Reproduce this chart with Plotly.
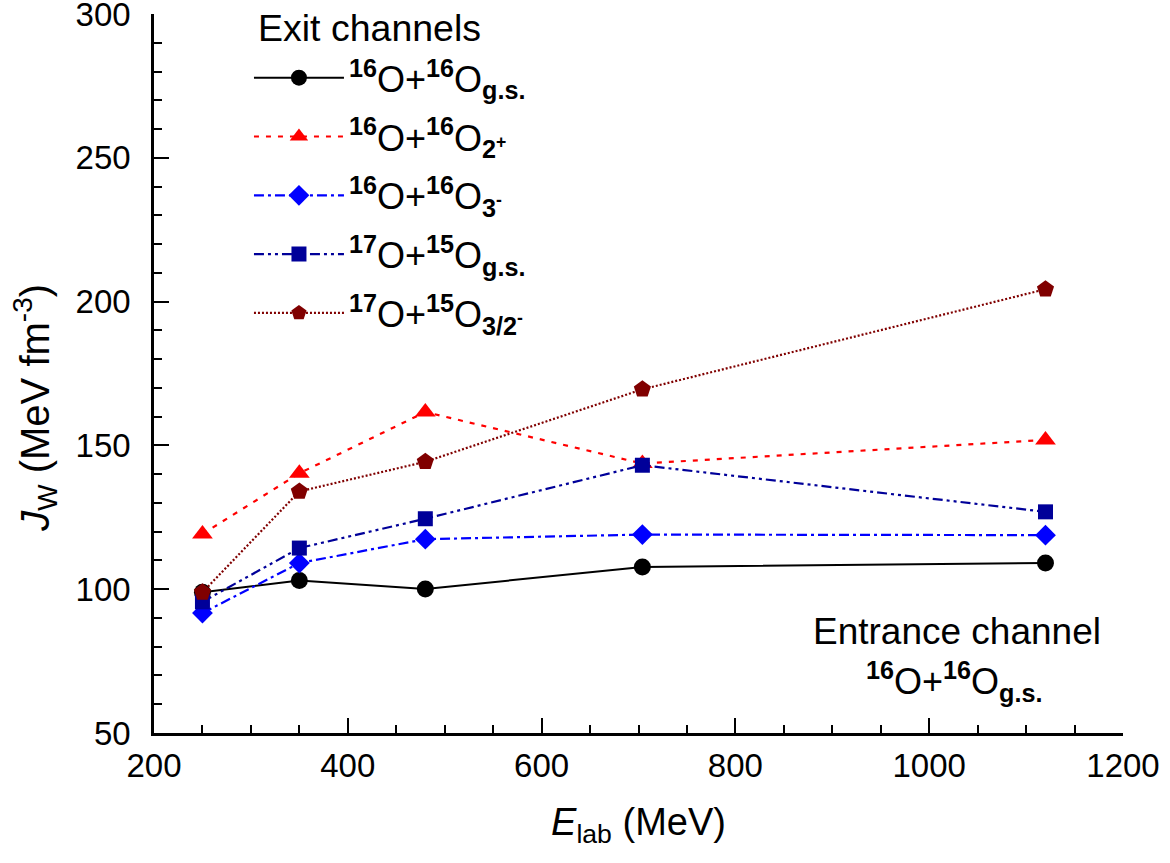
import plotly.graph_objects as go

# Laboratory energies (MeV)
e_lab = [250, 350, 480, 704, 1120]

# Volume integrals J_W (MeV fm^-3) for each exit channel
jw_16o_gs = [98.9, 103.0, 100.1, 107.7, 109.1]
jw_16o_2p = [119.2, 140.3, 161.6, 143.7, 151.9]
jw_16o_3m = [91.7, 109.1, 117.4, 119.0, 118.8]
jw_17o_gs = [95.6, 114.3, 124.5, 143.1, 126.9]
jw_17o_32m = [98.9, 134.0, 144.3, 169.5, 204.3]

# Axis ticks
x_major = [200, 400, 600, 800, 1000, 1200]
y_major = [50, 100, 150, 200, 250, 300]

FONT = "Arial, Liberation Sans, sans-serif"

series = [
    dict(y=jw_16o_gs,
         name="<b><sup>16</sup></b>O+<b><sup>16</sup></b>O<b><sub>g.s.</sub></b>",
         color="#000000", symbol="circle", size=17, dash="solid", width=2),
    dict(y=jw_16o_2p,
         name="<b><sup>16</sup></b>O+<b><sup>16</sup></b>O<b><sub>2<sup>+</sup></sub></b>",
         color="#FF0000", symbol="triangle-up", size=18, dash="5px,7px", width=2.2),
    dict(y=jw_16o_3m,
         name="<b><sup>16</sup></b>O+<b><sup>16</sup></b>O<b><sub>3<sup>-</sup></sub></b>",
         color="#0000FF", symbol="diamond", size=16, dash="10px,4px,3px,4px", width=2.2),
    dict(y=jw_17o_gs,
         name="<b><sup>17</sup></b>O+<b><sup>15</sup></b>O<b><sub>g.s.</sub></b>",
         color="#000099", symbol="square", size=15, dash="10px,4px,3px,4px,3px,4px", width=2.2),
    dict(y=jw_17o_32m,
         name="<b><sup>17</sup></b>O+<b><sup>15</sup></b>O<b><sub>3/2<sup>-</sup></sub></b>",
         color="#800000", symbol="pentagon", size=18, dash="2px,2px", width=2.2),
]

fig = go.Figure()
for i, s in enumerate(series):
    fig.add_trace(go.Scatter(
        x=e_lab, y=s["y"], name=s["name"], mode="lines+markers",
        legendgroup=f"g{i}",
        line=dict(color=s["color"], dash=s["dash"], width=s["width"]),
        marker=dict(color=s["color"], symbol=s["symbol"], size=s["size"]),
    ))

axis_common = dict(
    showline=True, linecolor="black", linewidth=2.5,
    ticks="inside", ticklen=15, tickwidth=2, tickcolor="black",
    showgrid=False, zeroline=False, mirror=False,
    ticklabeloverflow="allow",
    tickfont=dict(family=FONT, size=33, color="black"),
)

fig.update_xaxes(
    range=[200, 1200], tickmode="array", tickvals=x_major,
    minor=dict(ticks="inside", ticklen=8, tickwidth=2, tickcolor="black",
               tickmode="linear", tick0=200, dtick=50, showgrid=False),
    title=dict(text="<i>E</i><sub>lab</sub> (MeV)", font=dict(family=FONT, size=38, color="black"), standoff=26),
    ticklabelstandoff=2,
    **axis_common,
)
fig.update_yaxes(
    range=[50, 300], tickmode="array", tickvals=y_major,
    minor=dict(ticks="inside", ticklen=8, tickwidth=2, tickcolor="black",
               tickmode="linear", tick0=50, dtick=10, showgrid=False),
    ticklabelstandoff=14,
    **axis_common,
)

# y-axis title, placed slightly below the plot's vertical centre
fig.add_annotation(
    xref="paper", yref="paper", x=-0.123, y=0.452, xanchor="center", yanchor="middle",
    text="<i>J</i><sub>W</sub> (MeV fm<sup>-3</sup>)", textangle=-90, showarrow=False,
    font=dict(family=FONT, size=40, color="black"),
)

# Legend heading
fig.add_annotation(
    xref="paper", yref="paper", x=0.1055, y=0.981, xanchor="left", yanchor="middle",
    text="Exit channels", showarrow=False,
    font=dict(family=FONT, size=37.5, color="black"),
)

fig.add_annotation(
    xref="paper", yref="paper", x=0.829, y=0.141, xanchor="center", yanchor="middle",
    text="Entrance channel", showarrow=False,
    font=dict(family=FONT, size=37, color="black"),
)
fig.add_annotation(
    xref="paper", yref="paper", x=0.826, y=0.072, xanchor="center", yanchor="middle",
    text="<b><sup>16</sup></b>O+<b><sup>16</sup></b>O<b><sub>g.s.</sub></b>", showarrow=False,
    font=dict(family=FONT, size=36, color="black"),
)

fig.update_layout(
    width=1170, height=863,
    margin=dict(l=154, r=47, t=14, b=130, autoexpand=False),
    plot_bgcolor="white", paper_bgcolor="white",
    font=dict(family=FONT, color="black"),
    showlegend=True,
    legend=dict(
        x=0.098, y=0.953, xanchor="left", yanchor="top",
        bgcolor="rgba(0,0,0,0)", borderwidth=0,
        font=dict(family=FONT, size=36, color="black"),
        itemwidth=90, tracegroupgap=9, itemsizing="trace",
    ),
)

fig.write_html("out.html")
